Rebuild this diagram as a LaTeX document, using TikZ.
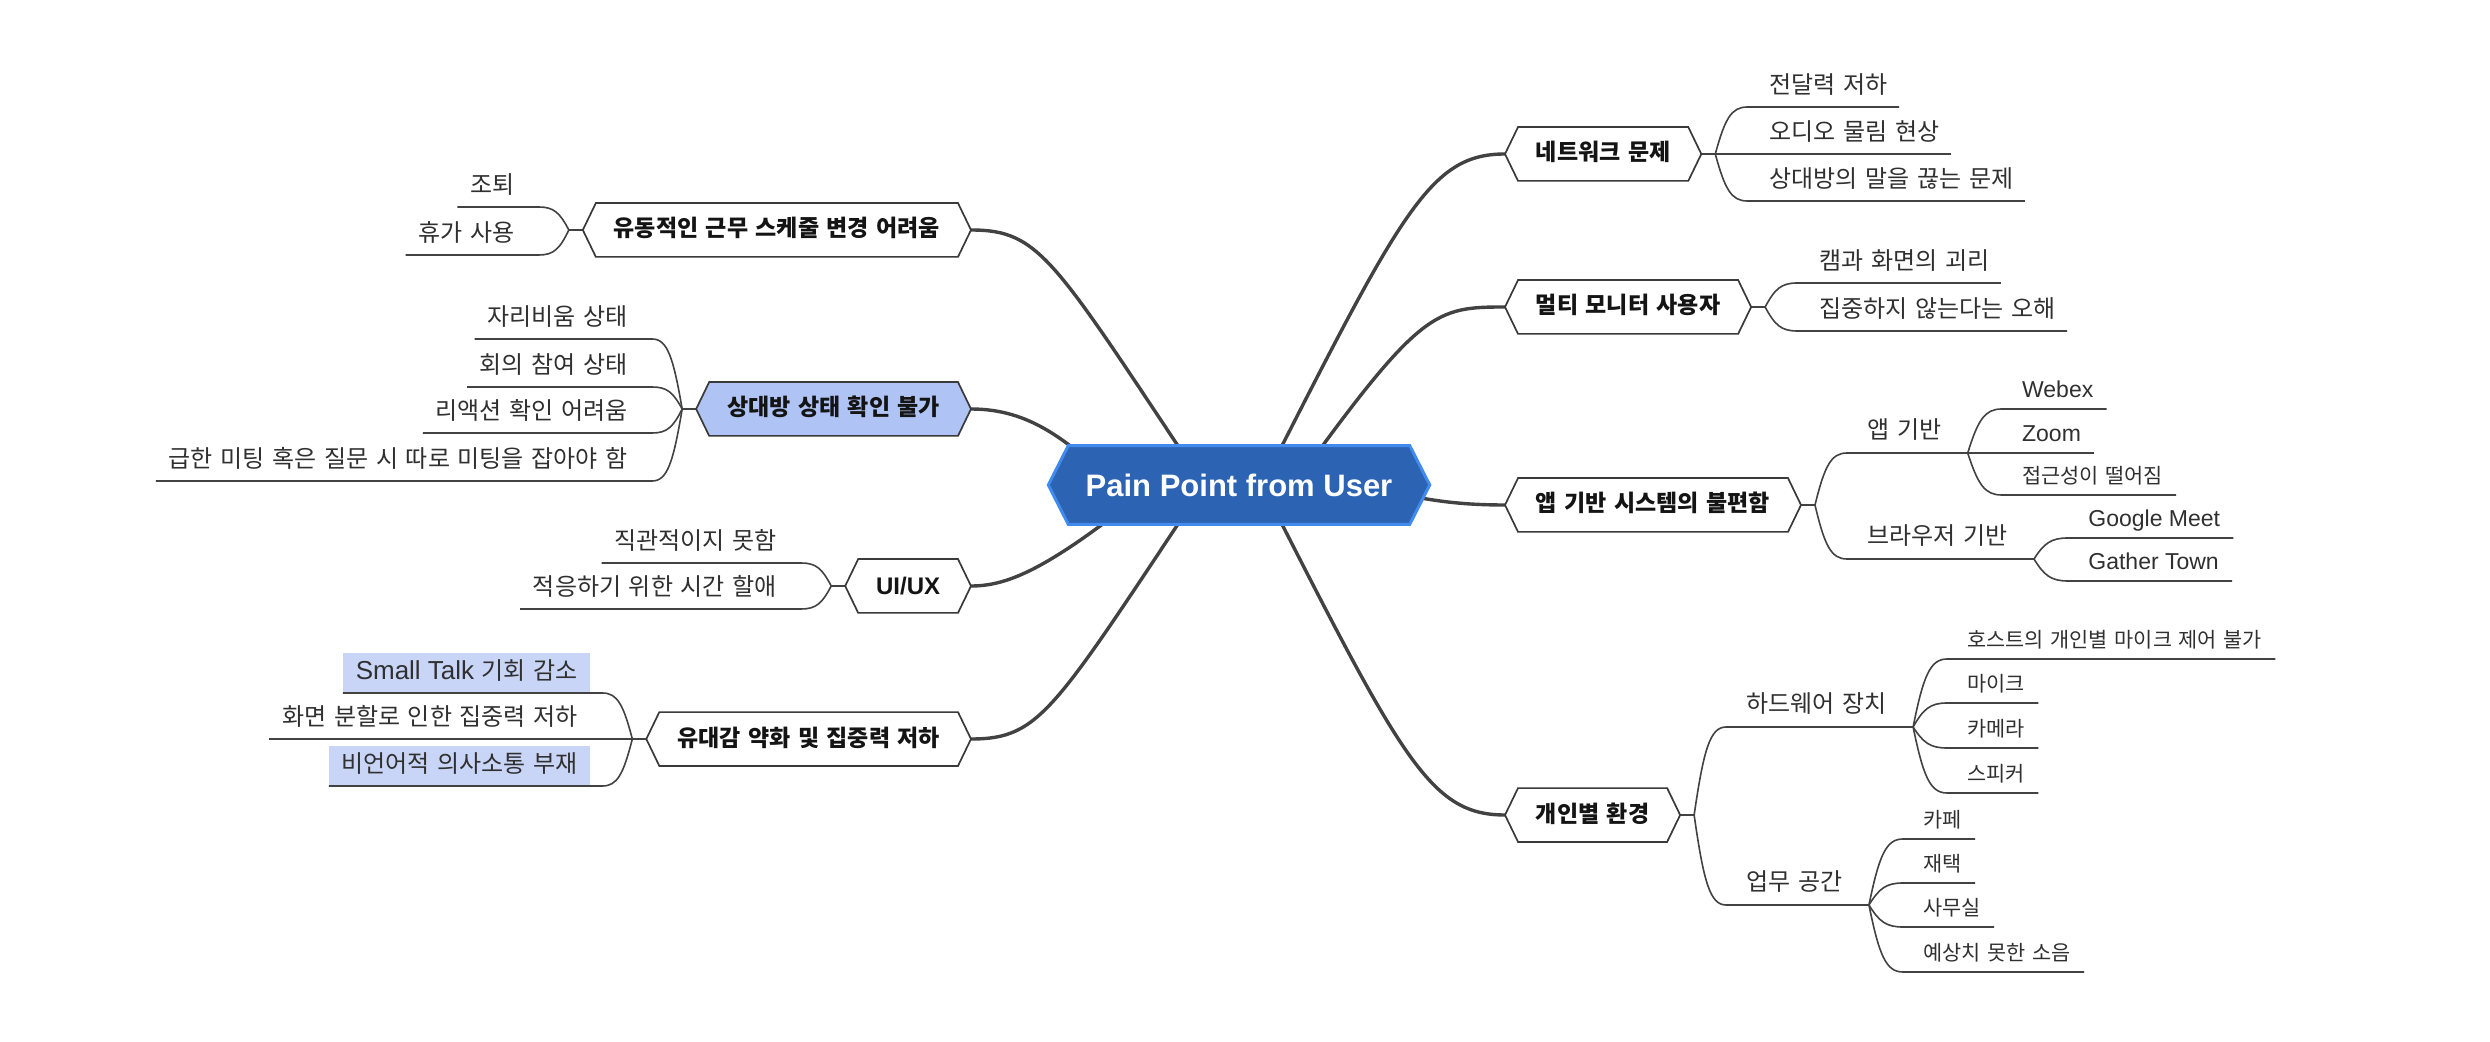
\documentclass[tikz,border=0pt]{standalone}
\usepackage{fontspec}
\setmainfont{Noto Sans CJK KR}[WordSpace=1.43]
\newfontfamily\lat{Liberation Sans}
\usetikzlibrary{calc}
\pgfdeclarelayer{bg}
\pgfdeclarelayer{lines}
\pgfdeclarelayer{shapes}
\pgfsetlayers{bg,lines,shapes,main}
\definecolor{linec}{HTML}{424242}
\definecolor{hexborder}{HTML}{3A3A3A}
\definecolor{hextext}{HTML}{141414}
\definecolor{leaftext}{HTML}{303030}
\definecolor{rootfill}{HTML}{2C63B2}
\definecolor{rootborder}{HTML}{418BEE}
\definecolor{peerfill}{HTML}{AFC3F4}
\definecolor{hlfill}{HTML}{C8D5F6}
\newcommand\latA[1]{{\lat\fontsize{13pt}{15pt}\selectfont #1}}
\newcommand\latB[1]{{\lat\bfseries\fontsize{12pt}{14pt}\selectfont #1}}
\newcommand\latC[1]{{\lat\fontsize{11.5pt}{13pt}\selectfont #1}}
\newcommand\hexfont{\bfseries\fontsize{11.5pt}{13pt}\selectfont}
\newcommand\leaffont{\fontsize{12pt}{14pt}\selectfont}
\newcommand\smallleaffont{\fontsize{10.4pt}{12pt}\selectfont}
\newcommand\hexshape[3]{%
  \begin{pgfonlayer}{shapes}
    \path[#3] (#1.north west) -- (#1.north east) -- ([xshift=#2]#1.east) -- (#1.south east) -- (#1.south west) -- ([xshift=-#2]#1.west) -- cycle;
  \end{pgfonlayer}
  \coordinate (#1-l) at ([xshift=-#2]#1.west);
  \coordinate (#1-r) at ([xshift=#2]#1.east);
}
\begin{document}
\begin{tikzpicture}[x=0.5pt,y=-0.5pt,
  rootnode/.style={inner xsep=8.5pt, inner ysep=13.95pt, text height=11.1pt, text depth=0pt,
    font=\lat\bfseries\fontsize{15.5pt}{18pt}\selectfont, text=white},
  rootpoly/.style={fill=rootfill, draw=rootborder, line width=1.5pt},
  hexR/.style={anchor=west, inner xsep=8.75pt, inner ysep=8.1pt, text height=8.65pt, text depth=1.65pt, font=\hexfont, text=hextext},
  hexL/.style={anchor=east, inner xsep=8.75pt, inner ysep=8.1pt, text height=8.65pt, text depth=1.65pt, font=\hexfont, text=hextext},
  hexpoly/.style={fill=white, draw=hexborder, line width=0.85pt},
  peerpoly/.style={fill=peerfill, draw=hexborder, line width=0.85pt},
  leafR/.style={anchor=south west, inner xsep=0pt, inner ysep=6.75pt, text depth=0pt, font=\leaffont, text=leaftext,
    execute at begin node={\hspace*{11pt}}, execute at end node={\hspace*{5.5pt}}, xshift=16pt},
  leafL/.style={anchor=south east, inner xsep=0pt, inner ysep=6.75pt, text depth=0pt, font=\leaffont, text=leaftext,
    execute at begin node={\hspace*{6.25pt}}, execute at end node={\hspace*{12pt}}, xshift=-15pt},
  midR/.style={anchor=south west, inner xsep=0pt, inner ysep=7pt, text depth=0pt, font=\leaffont, text=leaftext,
    execute at begin node={\hspace*{10pt}}, execute at end node={\hspace*{13pt}}, xshift=16pt},
  subR/.style={anchor=south west, inner xsep=0pt, inner ysep=5.75pt, text depth=0pt, font=\smallleaffont, text=leaftext,
    execute at begin node={\hspace*{10pt}}, execute at end node={\hspace*{6.5pt}}, xshift=17pt},
  rootline/.style={draw=linec, line width=1.7pt},
  leafline/.style={draw=linec, line width=0.8pt},
  leafc/.style={to path={let \p1=(\tikztostart), \p2=(\tikztotarget) in
    .. controls ({\x1+0.3*(\x2-\x1)},{\y1+0.75*(\y2-\y1)}) and ({\x2-0.5*(\x2-\x1)},{\y2}) .. (\tikztotarget) \tikztonodes}},
  hl/.style={fill=hlfill}
]
\useasboundingbox (0,0) rectangle (2490,1042);
\begin{pgfonlayer}{bg}
  \fill[white] (0,0) rectangle (2490,1042);
\end{pgfonlayer}

% root
\node[rootnode] (root) at (1239,485) {Pain Point from User};
\hexshape{root}{10pt}{rootpoly}

% ---------- right side ----------
\node[hexR] (net) at (1518,154) {네트워크 문제};
\hexshape{net}{6.5pt}{hexpoly}
\coordinate (jnet) at ([xshift=7pt]net-r);
\node[leafR] (net1) at (jnet |- 0,107) {전달력 저하};
\node[leafR] (net2) at (jnet |- 0,154) {오디오 물림 현상};
\node[leafR] (net3) at (jnet |- 0,201) {상대방의 말을 끊는 문제};

\node[hexR] (multi) at (1518,307) {멀티 모니터 사용자};
\hexshape{multi}{6.5pt}{hexpoly}
\coordinate (jmulti) at ([xshift=7pt]multi-r);
\node[leafR] (multi1) at (jmulti |- 0,283) {캠과 화면의 괴리};
\node[leafR] (multi2) at (jmulti |- 0,331) {집중하지 않는다는 오해};

\node[hexR] (app) at (1518,505) {앱 기반 시스템의 불편함};
\hexshape{app}{6.5pt}{hexpoly}
\coordinate (japp) at ([xshift=7pt]app-r);
\node[midR] (app1) at (japp |- 0,453) {앱 기반};
\node[midR] (app2) at (japp |- 0,559) {브라우저 기반};
\node[subR] (app1a) at (app1.south east |- 0,409) {\latC{Webex}};
\node[subR] (app1b) at (app1.south east |- 0,453) {\latC{Zoom}};
\node[subR] (app1c) at (app1.south east |- 0,495) {접근성이 떨어짐};
\node[subR] (app2a) at (app2.south east |- 0,538) {\latC{Google Meet}};
\node[subR] (app2b) at (app2.south east |- 0,581) {\latC{Gather Town}};

\node[hexR] (ind) at (1518,815) {개인별 환경};
\hexshape{ind}{6.5pt}{hexpoly}
\coordinate (jind) at ([xshift=7pt]ind-r);
\node[midR] (ind1) at (jind |- 0,727) {하드웨어 장치};
\node[midR] (ind2) at (jind |- 0,905) {업무 공간};
\node[subR] (ind1a) at (ind1.south east |- 0,659) {호스트의 개인별 마이크 제어 불가};
\node[subR] (ind1b) at (ind1.south east |- 0,703) {마이크};
\node[subR] (ind1c) at (ind1.south east |- 0,748) {카메라};
\node[subR] (ind1d) at (ind1.south east |- 0,793) {스피커};
\node[subR] (ind2a) at (ind2.south east |- 0,839) {카페};
\node[subR] (ind2b) at (ind2.south east |- 0,883) {재택};
\node[subR] (ind2c) at (ind2.south east |- 0,927) {사무실};
\node[subR] (ind2d) at (ind2.south east |- 0,972) {예상치 못한 소음};

% ---------- left side ----------
\node[hexL] (flex) at (958,230) {유동적인 근무 스케줄 변경 어려움};
\hexshape{flex}{6.5pt}{hexpoly}
\coordinate (jflex) at ([xshift=-7pt]flex-l);
\node[leafL] (flex1) at (jflex |- 0,207) {조퇴};
\node[leafL] (flex2) at (jflex |- 0,255) {휴가 사용};

\node[hexL] (peer) at (958,409) {상대방 상태 확인 불가};
\hexshape{peer}{6.5pt}{peerpoly}
\coordinate (jpeer) at ([xshift=-7pt]peer-l);
\node[leafL] (peer1) at (jpeer |- 0,339) {자리비움 상태};
\node[leafL] (peer2) at (jpeer |- 0,387) {회의 참여 상태};
\node[leafL] (peer3) at (jpeer |- 0,433) {리액션 확인 어려움};
\node[leafL] (peer4) at (jpeer |- 0,481) {급한 미팅 혹은 질문 시 따로 미팅을 잡아야 함};

\node[hexL, text height=9.45pt, text depth=0.85pt] (uiux) at (958,586) {\latB{UI/UX}};
\hexshape{uiux}{6.5pt}{hexpoly}
\coordinate (juiux) at ([xshift=-7pt]uiux-l);
\node[leafL] (uiux1) at (juiux |- 0,563) {직관적이지 못함};
\node[leafL] (uiux2) at (juiux |- 0,609) {적응하기 위한 시간 할애};

\node[hexL] (bond) at (958,739) {유대감 약화 및 집중력 저하};
\hexshape{bond}{6.5pt}{hexpoly}
\coordinate (jbond) at ([xshift=-7pt]bond-l);
\node[leafL] (bond1) at (jbond |- 0,693) {\latA{Small Talk} 기회 감소};
\node[leafL] (bond2) at (jbond |- 0,739) {화면 분할로 인한 집중력 저하};
\node[leafL] (bond3) at (jbond |- 0,786) {비언어적 의사소통 부재};
\begin{pgfonlayer}{shapes}
  \path[hl] ([yshift=0.5pt]bond1.south west) rectangle ([xshift=-6pt,yshift=20pt]bond1.south east);
  \path[hl] ([yshift=0.5pt]bond3.south west) rectangle ([xshift=-6pt,yshift=20pt]bond3.south east);
\end{pgfonlayer}

% ---------- connectors ----------
\begin{pgfonlayer}{lines}
  \draw[rootline] ($(root.center)+(23,0)$) .. controls +(140,-275) and +(-75,0) .. (net-l);
  \draw[rootline] ($(root.center)+(55,0)$) .. controls +(126,-175) and +(-70,0) .. (multi-l);
  \draw[rootline] ($(root.center)+(61,0)$) .. controls +(100,0) and +(-95,0) .. (app-l);
  \draw[rootline] ($(root.center)+(23,0)$) .. controls +(140,275) and +(-75,0) .. (ind-l);
  \draw[rootline] ($(root.center)+(-35,0)$) .. controls +(-150,-225) and +(70,0) .. (flex-r);
  \draw[rootline] ($(root.center)+(-109,15)$) .. controls +(-60,-60) and +(59,0) .. (peer-r);
  \draw[rootline] ($(root.center)+(-86,0)$) .. controls +(-103,83) and +(38,0) .. (uiux-r);
  \draw[rootline] ($(root.center)+(-35,0)$) .. controls +(-150,225) and +(70,0) .. (bond-r);

  \draw[leafline] (net-r) -- (jnet);
  \foreach \lf in {net1,net2,net3}
    \draw[leafline] (jnet) to[leafc] (\lf.south west) -- (\lf.south east);
  \draw[leafline] (multi-r) -- (jmulti);
  \foreach \lf in {multi1,multi2}
    \draw[leafline] (jmulti) to[leafc] (\lf.south west) -- (\lf.south east);
  \draw[leafline] (app-r) -- (japp);
  \foreach \lf in {app1,app2}
    \draw[leafline] (japp) to[leafc] (\lf.south west) -- (\lf.south east);
  \foreach \lf in {app1a,app1b,app1c}
    \draw[leafline] (app1.south east) to[leafc] (\lf.south west) -- (\lf.south east);
  \foreach \lf in {app2a,app2b}
    \draw[leafline] (app2.south east) to[leafc] (\lf.south west) -- (\lf.south east);
  \draw[leafline] (ind-r) -- (jind);
  \foreach \lf in {ind1,ind2}
    \draw[leafline] (jind) to[leafc] (\lf.south west) -- (\lf.south east);
  \foreach \lf in {ind1a,ind1b,ind1c,ind1d}
    \draw[leafline] (ind1.south east) to[leafc] (\lf.south west) -- (\lf.south east);
  \foreach \lf in {ind2a,ind2b,ind2c,ind2d}
    \draw[leafline] (ind2.south east) to[leafc] (\lf.south west) -- (\lf.south east);

  \draw[leafline] (flex-l) -- (jflex);
  \foreach \lf in {flex1,flex2}
    \draw[leafline] (jflex) to[leafc] (\lf.south east) -- (\lf.south west);
  \draw[leafline] (peer-l) -- (jpeer);
  \foreach \lf in {peer1,peer2,peer3,peer4}
    \draw[leafline] (jpeer) to[leafc] (\lf.south east) -- (\lf.south west);
  \draw[leafline] (uiux-l) -- (juiux);
  \foreach \lf in {uiux1,uiux2}
    \draw[leafline] (juiux) to[leafc] (\lf.south east) -- (\lf.south west);
  \draw[leafline] (bond-l) -- (jbond);
  \foreach \lf in {bond1,bond2,bond3}
    \draw[leafline] (jbond) to[leafc] (\lf.south east) -- (\lf.south west);
\end{pgfonlayer}
\end{tikzpicture}
\end{document}
